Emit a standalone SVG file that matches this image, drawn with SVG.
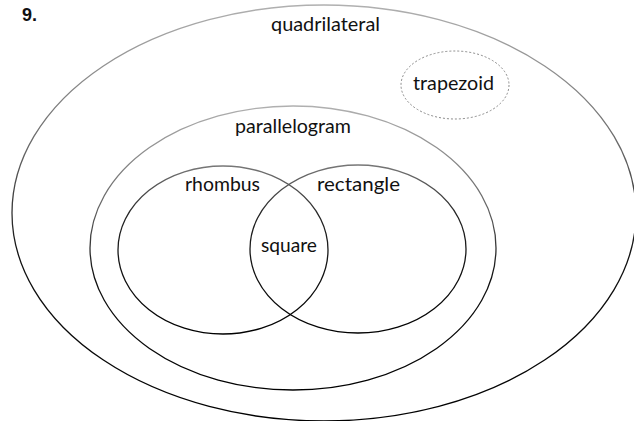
<svg xmlns="http://www.w3.org/2000/svg" width="634" height="421" viewBox="0 0 634 421">
<defs>
<linearGradient id="fade" x1="0" y1="0" x2="0" y2="1">
<stop offset="0" stop-color="#b0b0b0"/>
<stop offset="0.35" stop-color="#666"/>
<stop offset="0.6" stop-color="#111"/>
<stop offset="1" stop-color="#000"/>
</linearGradient>
<linearGradient id="fadeIn" x1="0" y1="0" x2="0" y2="1">
<stop offset="0" stop-color="#777"/>
<stop offset="0.3" stop-color="#222"/>
<stop offset="1" stop-color="#000"/>
</linearGradient>
</defs>
<style>
.set{fill:none;stroke-width:1.3}
.outer{stroke:url(#fade)}
.inner{stroke:url(#fadeIn)}
.faint{fill:none;stroke:#8a8a8a;stroke-width:1;stroke-dasharray:2 2}
.lbl{font-family:Lato,"Liberation Sans",Arial,sans-serif;font-size:19px;fill:#111;text-anchor:middle}
.num{font-family:"Liberation Sans",Arial,sans-serif;font-size:18px;font-weight:bold;fill:#111}
</style>
<rect width="634" height="421" fill="#fff"/>
<text class="num" x="22" y="21">9.</text>
<g id="quadrilateral">
<ellipse class="set outer" cx="324" cy="213" rx="312" ry="208"/>
<text class="lbl" x="325.5" y="31" textLength="109" lengthAdjust="spacingAndGlyphs">quadrilateral</text>
</g>
<g id="trapezoid">
<ellipse class="faint" cx="455" cy="85" rx="54" ry="34"/>
<text class="lbl" x="453.5" y="90" textLength="81" lengthAdjust="spacingAndGlyphs">trapezoid</text>
</g>
<g id="parallelogram">
<ellipse class="set outer" cx="293" cy="248" rx="203" ry="142"/>
<text class="lbl" x="293" y="133" textLength="116" lengthAdjust="spacingAndGlyphs">parallelogram</text>
</g>
<g id="rhombus">
<ellipse class="set inner" cx="223" cy="250" rx="105" ry="84"/>
<text class="lbl" x="222.5" y="191" textLength="75" lengthAdjust="spacingAndGlyphs">rhombus</text>
</g>
<g id="rectangle">
<ellipse class="set inner" cx="358" cy="249" rx="108" ry="84"/>
<text class="lbl" x="358.5" y="191" textLength="83" lengthAdjust="spacingAndGlyphs">rectangle</text>
</g>
<g id="square">
<text class="lbl" x="289" y="252" textLength="56" lengthAdjust="spacingAndGlyphs">square</text>
</g>
<g id="connectors"></g>
</svg>
